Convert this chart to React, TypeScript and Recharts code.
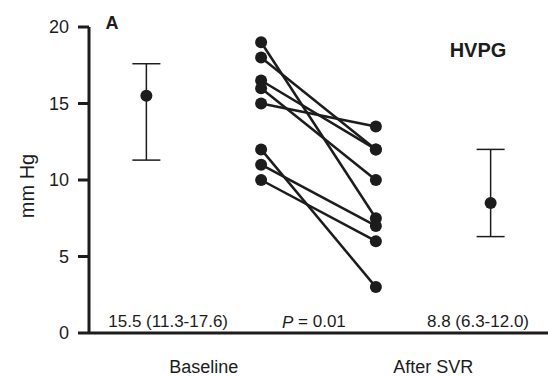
import {
  ComposedChart,
  Scatter,
  XAxis,
  YAxis,
  ErrorBar,
  ReferenceDot,
} from "recharts";

// paired HVPG values (mm Hg), same patient per index
const baseline = [19, 18, 16.5, 16, 15, 12, 11, 10];
const afterSvr = [7.5, 12, 12, 10, 13.5, 3, 7, 6];

// medians with ranges: [median, low, high]
const baselineSummary = [15.5, 11.3, 17.6];
const afterSummary = [8.5, 6.3, 12.0];

const yTicks = [0, 5, 10, 15, 20];
const groupTicks = [1.5, 3.5];
const groupNames = ["Baseline", "After SVR"];

const FONT = "'Liberation Sans', Arial, sans-serif";
const INK = "#1c1c1c";

const Dot = (props: any) => (
  <circle cx={props.cx} cy={props.cy} r={6} fill={INK} />
);

const summaryData = [
  {
    x: 1,
    y: baselineSummary[0],
    err: [baselineSummary[0] - baselineSummary[1], baselineSummary[2] - baselineSummary[0]],
  },
  {
    x: 4,
    y: afterSummary[0],
    err: [afterSummary[0] - afterSummary[1], afterSummary[2] - afterSummary[0]],
  },
];

const note = (content: any, size: number, bold = false) => (props: any) => (
  <text
    x={props.cx}
    y={props.cy}
    textAnchor="middle"
    dominantBaseline="central"
    fontFamily={FONT}
    fontSize={size}
    fontWeight={bold ? "bold" : "normal"}
    fill={INK}
  >
    {content}
  </text>
);

const App = () => {
  return (
    <div style={{ position: "absolute", left: 0, top: 0, background: "#fff" }}>
      <ComposedChart
        width={548}
        height={376}
        margin={{ top: 27, right: 0, left: 0, bottom: 0 }}
      >
        <XAxis
          type="number"
          dataKey="x"
          domain={[0.5, 4.5]}
          ticks={groupTicks}
          tickFormatter={(v: number) => groupNames[groupTicks.indexOf(v)]}
          tickLine={false}
          tickSize={0}
          tickMargin={27}
          height={43}
          axisLine={{ stroke: INK, strokeWidth: 3 }}
          tick={{ fontFamily: FONT, fontSize: 18, fill: INK }}
          allowDataOverflow
        />
        <YAxis
          type="number"
          dataKey="y"
          domain={[0, 20]}
          ticks={yTicks}
          width={89}
          tickSize={11}
          tickMargin={9}
          axisLine={{ stroke: INK, strokeWidth: 3 }}
          tickLine={{ stroke: INK, strokeWidth: 3 }}
          tick={{ fontFamily: FONT, fontSize: 18, fill: INK }}
          label={(p: any) => {
            const vb = p.viewBox;
            const cx = vb.x + 27;
            const cy = vb.y + vb.height / 2 + 6;
            return (
              <text
                x={cx}
                y={cy}
                transform={`rotate(-90, ${cx}, ${cy})`}
                textAnchor="middle"
                dominantBaseline="central"
                fontFamily={FONT}
                fontSize={20}
                fill={INK}
              >
                mm Hg
              </text>
            );
          }}
        />

        {baseline.map((b, i) => (
          <Scatter
            key={i}
            data={[
              { x: 2, y: b },
              { x: 3, y: afterSvr[i] },
            ]}
            line={{ stroke: INK, strokeWidth: 2.5 }}
            shape={Dot}
            isAnimationActive={false}
          />
        ))}

        <Scatter data={summaryData} shape={Dot} isAnimationActive={false}>
          <ErrorBar
            dataKey="err"
            direction="y"
            width={14}
            stroke={INK}
            strokeWidth={1.5}
          />
        </Scatter>

        <ReferenceDot
          x={1.19}
          y={0.72}
          ifOverflow="visible"
          shape={note(
            `${baselineSummary[0]} (${baselineSummary[1]}-${baselineSummary[2]})`,
            17
          )}
        />
        <ReferenceDot
          x={2.46}
          y={0.72}
          ifOverflow="visible"
          shape={note(
            <>
              <tspan fontStyle="italic">P</tspan> = 0.01
            </>,
            17
          )}
        />
        <ReferenceDot
          x={3.89}
          y={0.72}
          ifOverflow="visible"
          shape={note("8.8 (6.3-12.0)", 17)}
        />
        <ReferenceDot
          x={3.89}
          y={18.5}
          ifOverflow="visible"
          shape={note("HVPG", 20, true)}
        />
        <ReferenceDot
          x={0.7}
          y={20.23}
          ifOverflow="visible"
          shape={note("A", 18, true)}
        />
      </ComposedChart>
    </div>
  );
};

export default App;
